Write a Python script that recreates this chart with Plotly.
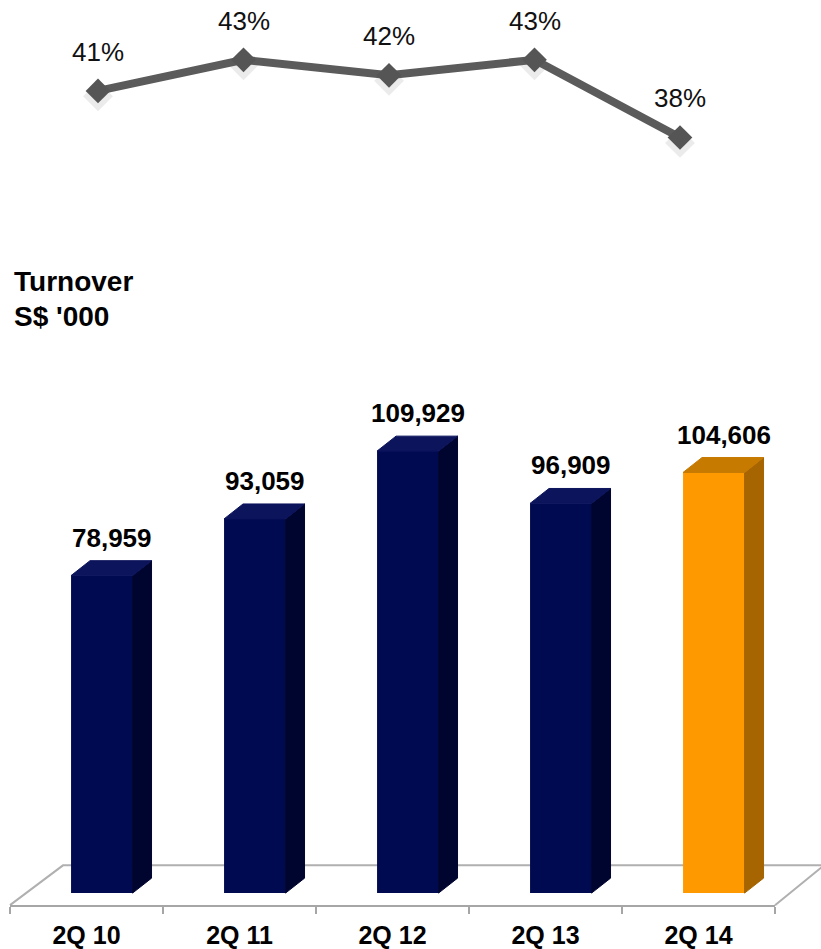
import plotly.graph_objects as go

# ---------------- data ----------------
categories = ["2Q 10", "2Q 11", "2Q 12", "2Q 13", "2Q 14"]
turnover = [78959, 93059, 109929, 96909, 104606]
turnover_labels = ["78,959", "93,059", "109,929", "96,909", "104,606"]
margin_pct = [41, 43, 42, 43, 38]
pct_labels = ["41%", "43%", "42%", "43%", "38%"]

front_colors = ["#000a50", "#000a50", "#000a50", "#000a50", "#ff9900"]
top_colors = ["#0c145c", "#0c145c", "#0c145c", "#0c145c", "#c77a00"]
side_colors = ["#000530", "#000530", "#000530", "#000530", "#a66500"]

FONT = "Arial, 'Liberation Sans', sans-serif"
W, H = 821, 949


def px_x(p):
    return p / W


def px_y(p):
    return 1 - p / H


# bar geometry (in axis units)
BAR_OFFSET = -0.101
BAR_WIDTH = 0.402
DX = 0.124
DY = 3715
Y_RANGE = [-3000, 128000]

xs_idx = list(range(len(categories)))

fig = go.Figure()

# side and top faces (drawn first, front faces on top)
for i, v in enumerate(turnover):
    x0 = i + BAR_OFFSET
    x1 = x0 + BAR_WIDTH
    fig.add_trace(go.Scatter(
        x=[x1, x1 + DX, x1 + DX, x1, x1],
        y=[0, DY, v + DY, v, 0],
        fill="toself", fillcolor=side_colors[i], mode="lines",
        line=dict(width=1, color=side_colors[i]),
        xaxis="x", yaxis="y", hoverinfo="skip",
    ))
    fig.add_trace(go.Scatter(
        x=[x0, x1, x1 + DX, x0 + DX, x0],
        y=[v, v, v + DY, v + DY, v],
        fill="toself", fillcolor=top_colors[i], mode="lines",
        line=dict(width=1, color=top_colors[i]),
        xaxis="x", yaxis="y", hoverinfo="skip",
    ))

# front faces
fig.add_trace(go.Bar(
    x=xs_idx, y=turnover, offset=BAR_OFFSET, width=BAR_WIDTH,
    marker=dict(color=front_colors, line=dict(width=0)),
    xaxis="x", yaxis="y", hoverinfo="skip",
))

# line chart (margin %)
fig.add_trace(go.Scatter(
    x=xs_idx, y=[m - 0.35 for m in margin_pct], mode="markers",
    marker=dict(symbol="diamond", size=23, color="rgba(0,0,0,0.08)"),
    xaxis="x2", yaxis="y2", hoverinfo="skip", cliponaxis=False,
))
fig.add_trace(go.Scatter(
    x=xs_idx, y=margin_pct, mode="lines+markers",
    line=dict(color="#5b5b5b", width=8),
    marker=dict(symbol="diamond", size=19, color="#555555",
                line=dict(width=0)),
    xaxis="x2", yaxis="y2", hoverinfo="skip", cliponaxis=False,
))

annotations = []
for i, v in enumerate(turnover):
    annotations.append(dict(
        x=i + 0.167, y=v + DY, xref="x", yref="y", text=turnover_labels[i],
        showarrow=False, yanchor="middle", xanchor="center", yshift=23,
        font=dict(family=FONT, size=26, color="#000000", weight="bold"),
    ))
for i, m in enumerate(margin_pct):
    annotations.append(dict(
        x=i, y=m, xref="x2", yref="y2", text=pct_labels[i],
        showarrow=False, yanchor="middle", xanchor="center", yshift=39,
        font=dict(family=FONT, size=26, color="#111111"),
    ))
annotations.append(dict(
    x=px_x(12), y=px_y(283), xref="paper", yref="paper", text="Turnover",
    showarrow=False, xanchor="left", yanchor="middle",
    font=dict(family=FONT, size=28, color="#000000", weight="bold"),
))
annotations.append(dict(
    x=px_x(12), y=px_y(318), xref="paper", yref="paper", text="S$ '000",
    showarrow=False, xanchor="left", yanchor="middle",
    font=dict(family=FONT, size=28, color="#000000", weight="bold"),
))

floor_path = "M {:.5f},{:.5f} L {:.5f},{:.5f} L {:.5f},{:.5f} L {:.5f},{:.5f}".format(
    px_x(10), px_y(909), px_x(63), px_y(869), px_x(824), px_y(869), px_x(775), px_y(909))

fig.update_layout(
    width=W, height=H,
    margin=dict(l=0, r=0, t=0, b=0),
    paper_bgcolor="white", plot_bgcolor="rgba(0,0,0,0)",
    showlegend=False,
    font=dict(family=FONT),
    xaxis=dict(
        domain=[px_x(10), px_x(775)], range=[-0.5, 4.5], type="linear",
        anchor="y", tickmode="array", tickvals=xs_idx, ticktext=categories,
        ticks="", showline=True, linecolor="#a6a6a6", linewidth=2,
        showgrid=False, zeroline=False,
        tickfont=dict(family=FONT, size=25, color="#000000", weight="bold"),
        minor=dict(tickmode="array", tickvals=[-0.5, 0.5, 1.5, 2.5, 3.5, 4.5],
                   ticks="outside", ticklen=7, tickwidth=2,
                   tickcolor="#a6a6a6", showgrid=False),
        ticklabelstandoff=7,
    ),
    yaxis=dict(
        domain=[px_y(909), px_y(380)], range=Y_RANGE, anchor="x",
        visible=False, showgrid=False, zeroline=False,
    ),
    xaxis2=dict(
        domain=[px_x(25.25), px_x(752.75)], range=[-0.5, 4.5], anchor="y2",
        visible=False, showgrid=False, zeroline=False,
    ),
    yaxis2=dict(
        domain=[px_y(200), 1], range=[34.03, 46.85], anchor="x2",
        visible=False, showgrid=False, zeroline=False,
    ),
    annotations=annotations,
    shapes=[dict(type="path", path=floor_path, xref="paper", yref="paper",
                 line=dict(color="#b0b0b0", width=2), layer="below")],
)

fig.write_html("out.html")
